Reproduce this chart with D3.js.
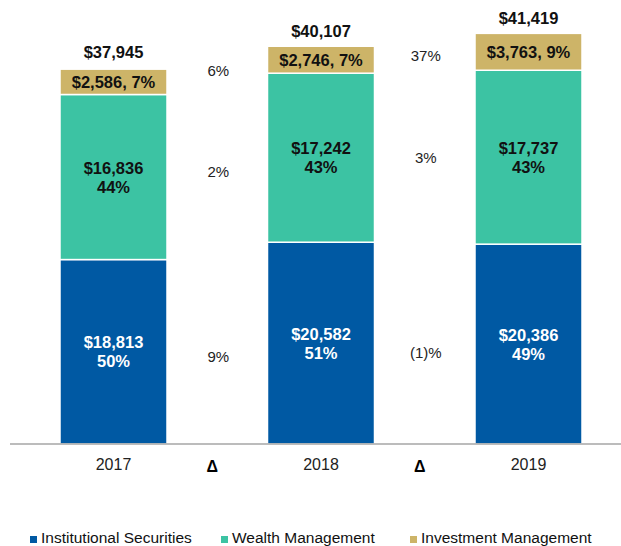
<!DOCTYPE html>
<html>
<head>
<meta charset="utf-8">
<script src="https://cdn.jsdelivr.net/npm/d3@7"></script>
<style>
  html, body { margin: 0; padding: 0; background: #fff; }
  svg { display: block; font-family: "Liberation Sans", Arial, sans-serif; }
</style>
</head>
<body>
<div id="chart"></div>
<script>
const years = ['2017', '2018', '2019'];
const segments = ['Institutional Securities', 'Wealth Management', 'Investment Management'];
const institutional = [18813, 20582, 20386];
const wealth = [16836, 17242, 17737];
const investment = [2586, 2746, 3763];
const totals = [37945, 40107, 41419];
const institutionalPct = ['50%', '51%', '49%'];
const wealthPct = ['44%', '43%', '43%'];
const investmentPct = ['7%', '7%', '9%'];
// growth between years: [institutional, wealth, investment]
const deltas = [['9%', '2%', '6%'], ['(1)%', '3%', '37%']];
const colors = ['#0059a3', '#3cc3a3', '#cdb468'];

const width = 621, height = 546;
const baseY = 444;

const svg = d3.select('#chart').append('svg')
    .attr('width', width)
    .attr('height', height);

const cols = ['2017', 'd1', '2018', 'd2', '2019'];
const x = d3.scalePoint().domain(cols).range([113.5, 528.5]);
const barW = 107;
const y = d3.scaleLinear().domain([0, 37945]).range([baseY, 72]);

const rows = years.map((yr, i) => ({
  year: yr,
  'Institutional Securities': institutional[i],
  'Wealth Management': wealth[i],
  'Investment Management': investment[i]
}));
const stacked = d3.stack().keys(segments)(rows);

const layers = svg.append('g')
  .selectAll('g')
  .data(stacked)
  .join('g')
    .attr('fill', (d, i) => colors[i]);

layers.selectAll('rect')
  .data(d => d)
  .join('rect')
    .attr('x', d => x(d.data.year) - barW / 2)
    .attr('width', barW)
    .attr('y', d => y(d[1]))
    .attr('height', d => y(d[0]) - y(d[1]))
    .attr('stroke', '#fff')
    .attr('stroke-width', 1.5);

// axis line
svg.append('line')
    .attr('x1', 10).attr('x2', width)
    .attr('y1', baseY).attr('y2', baseY)
    .attr('stroke', '#a6a6a6')
    .attr('stroke-width', 1.5);

const fmt = d3.format('$,');
const mid = (s, i) => (y(stacked[s][i][0]) + y(stacked[s][i][1])) / 2;
const fs = 16.5;

// segment labels
years.forEach((yr, i) => {
  const cx = x(yr);
  const t1 = svg.append('text')
      .attr('x', cx).attr('y', mid(0, i))
      .attr('text-anchor', 'middle')
      .attr('font-size', fs).attr('font-weight', 'bold')
      .attr('fill', '#fff');
  t1.append('tspan').attr('x', cx).attr('dy', '-0.2em').text(fmt(institutional[i]));
  t1.append('tspan').attr('x', cx).attr('dy', '1.15em').text(institutionalPct[i]);

  const t2 = svg.append('text')
      .attr('x', cx).attr('y', mid(1, i))
      .attr('text-anchor', 'middle')
      .attr('font-size', fs).attr('font-weight', 'bold')
      .attr('fill', '#111');
  t2.append('tspan').attr('x', cx).attr('dy', '-0.2em').text(fmt(wealth[i]));
  t2.append('tspan').attr('x', cx).attr('dy', '1.15em').text(wealthPct[i]);

  svg.append('text')
      .attr('x', cx).attr('y', mid(2, i))
      .attr('dy', '0.36em')
      .attr('text-anchor', 'middle')
      .attr('font-size', fs).attr('font-weight', 'bold')
      .attr('fill', '#111')
      .text(`${fmt(investment[i])}, ${investmentPct[i]}`);

  svg.append('text')
      .attr('x', cx).attr('y', y(totals[i]) - 14)
      .attr('text-anchor', 'middle')
      .attr('font-size', fs).attr('font-weight', 'bold')
      .attr('fill', '#111')
      .text(fmt(totals[i]));

  svg.append('text')
      .attr('x', cx).attr('y', baseY + 26)
      .attr('text-anchor', 'middle')
      .attr('font-size', 16)
      .attr('fill', '#222')
      .text(yr);
});

// deltas between years
['d1', 'd2'].forEach((c, k) => {
  const cx = x(c);
  svg.append('text')
      .attr('x', cx - 5).attr('y', baseY + 28)
      .attr('text-anchor', 'middle')
      .attr('font-size', 16).attr('font-weight', 'bold')
      .text('Δ');
  deltas[k].forEach((v, s) => {
    const yy = (mid(s, k) + mid(s, k + 1)) / 2 + (s === 0 ? 9 : s === 1 && k === 0 ? 4 : 0);
    svg.append('text')
        .attr('x', cx + 1).attr('y', yy)
        .attr('dy', '0.36em')
        .attr('text-anchor', 'middle')
        .attr('font-size', 15)
        .attr('fill', '#222')
        .text(v);
  });
});

// legend
const legendX = [30, 221, 410];
const legend = svg.append('g')
  .selectAll('g')
  .data(segments)
  .join('g')
    .attr('transform', (d, i) => `translate(${legendX[i]},543)`);
legend.append('rect')
    .attr('x', 0).attr('y', -7)
    .attr('width', 7).attr('height', 7)
    .attr('fill', (d, i) => colors[i]);
legend.append('text')
    .attr('x', 11)
    .attr('font-size', 15.5)
    .attr('fill', '#111')
    .text(d => d);
</script>
</body>
</html>
